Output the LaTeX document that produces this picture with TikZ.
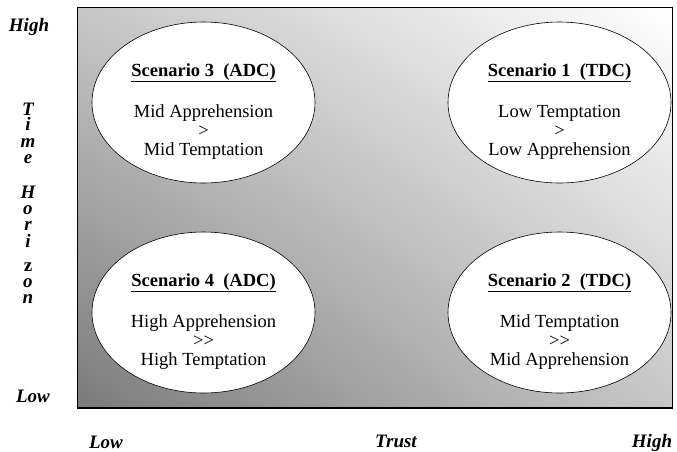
\documentclass[tikz,border=0pt]{standalone}
\usepackage{fontspec}
\setmainfont{Liberation Serif}
\usetikzlibrary{shapes.geometric,shadings}

\begin{document}
\begin{tikzpicture}[x=1pt,y=-1pt,
  scen/.style={ellipse,draw,fill=white,line width=0.6pt,
    minimum width=223pt,minimum height=161pt,inner sep=0pt},
  body/.style={anchor=base,inner sep=0pt,font=\fontsize{18.5}{20}\selectfont},
  axlab/.style={anchor=base,inner sep=0pt,font=\fontsize{19}{20}\selectfont\bfseries\itshape}]
  \useasboundingbox (0,0) rectangle (677,451);
  % --- shaded field ---
  \coordinate (TL) at (77,7);
  \coordinate (BR) at (672,408);
  \shade[lower left=black!52,upper left=black!22,upper right=white,lower right=black!22]
    (TL) rectangle (BR);
  \draw[line width=0.8pt] (TL) rectangle (BR);
  \draw[line width=1.8pt] (TL |- BR) -- (BR);
  % --- four scenario ellipses ---
  \foreach \nm/\cx/\cy/\ttl/\la/\sg/\lb in {%
      s3/203.5/102.5/{Scenario 3\ \ (ADC)}/{Mid Apprehension}/{>}/{Mid Temptation},
      s1/559.5/102.5/{Scenario 1\ \ (TDC)}/{Low Temptation}/{>}/{Low Apprehension},
      s4/203.5/312.5/{Scenario 4\ \ (ADC)}/{High Apprehension}/{>\kern0pt>}/{High Temptation},
      s2/559.5/312.5/{Scenario 2\ \ (TDC)}/{Mid Temptation}/{>\kern0pt>}/{Mid Apprehension}}{
    \node[scen] (\nm) at (\cx,\cy) {};
    \node[body] (\nm-t) at ([yshift=26.5pt]\nm.center) {\underline{\textbf{\ttl}}};
    \node[body] (\nm-a) at ([yshift=-14.5pt]\nm.center) {\la};
    \node[body] (\nm-s) at ([yshift=-33.5pt]\nm.center) {\sg};
    \node[body] (\nm-b) at ([yshift=-52.5pt]\nm.center) {\lb};
  }
  % --- axis labels ---
  \node[axlab] (yhi) at (29,31) {High};
  \node[axlab] (ylo) at (33,402) {Low};
  \foreach \ch/\yb [count=\i] in {T/115,i/130,m/147,e/163,H/198,o/214,r/230,i/247,{\upshape z}/271,o/287,n/303}
    \node[axlab] (ytl\i) at (28,\yb) {\ch};
  \node[axlab] (xlo) at (106,448) {Low};
  \node[axlab] (xti) at (396,447) {Trust};
  \node[axlab] (xhi) at (652,447) {High};
\end{tikzpicture}
\end{document}
